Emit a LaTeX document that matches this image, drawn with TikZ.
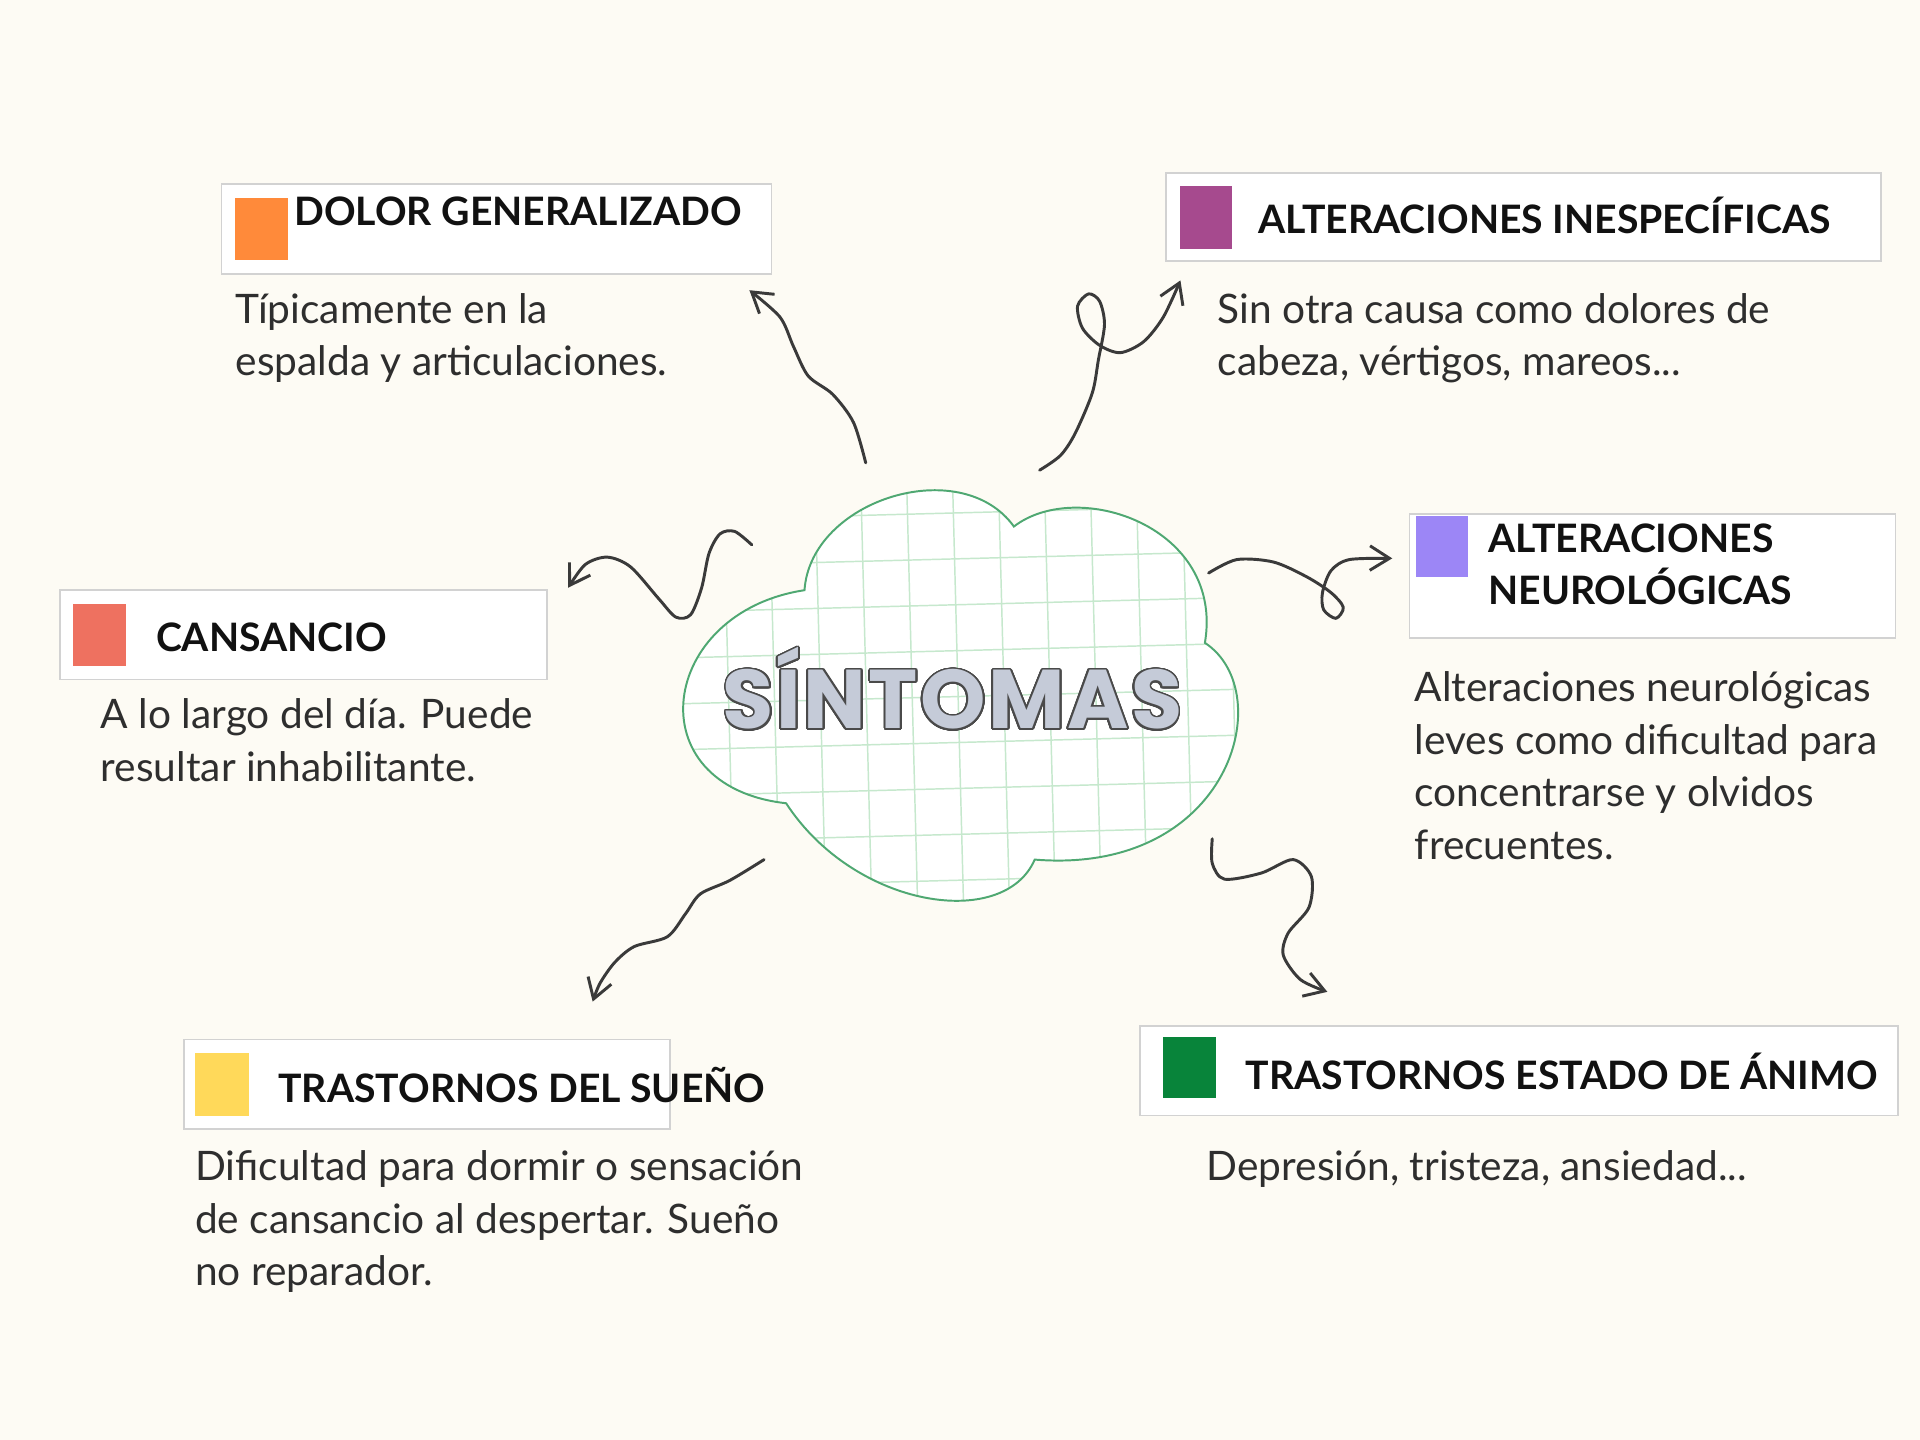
\documentclass[tikz,border=0pt]{standalone}
\usepackage{fontspec}
\setmainfont{Lato}
\newfontfamily\titlefont{Poppins}
\usepackage[copies]{contour}
\contourlength{0.7pt}
\contournumber{32}
\usetikzlibrary{arrows.meta}
\definecolor{bgc}{HTML}{FDFBF4}
\definecolor{boxline}{HTML}{D2D2D2}
\definecolor{headc}{HTML}{111111}
\definecolor{bodyc}{HTML}{2E2E2E}
\definecolor{arrowc}{HTML}{3A3A3A}
\definecolor{cloudc}{HTML}{4FA872}
\definecolor{gridc}{HTML}{C6E8CD}
\definecolor{titlefill}{HTML}{C5CBD8}
\definecolor{titleline}{HTML}{4A4A4A}
\definecolor{sqorange}{HTML}{FF8A3A}
\definecolor{sqpurple}{HTML}{A64A8E}
\definecolor{sqcoral}{HTML}{EE7160}
\definecolor{sqlav}{HTML}{9C86F6}
\definecolor{sqyellow}{HTML}{FFD95A}
\definecolor{sqgreen}{HTML}{08843A}
\tikzset{
  panel/.style={draw=boxline, fill=white, line width=0.7pt},
  headtext/.style={anchor=base west, inner sep=0pt, text=headc,
    font=\bfseries\fontsize{16}{21.5}\selectfont},
  bodytext/.style={anchor=base west, inner sep=0pt, align=left, text=bodyc,
    font=\fontsize{16.6}{21.5}\selectfont},
  squiggle/.style={draw=arrowc, line width=1.2pt, line cap=round, line join=round,
    -{Straight Barb[length=8pt,width=10pt]}},
  gridline/.style={draw=gridc, line width=0.6pt},
}
\def\cloudpath{(657,482) .. controls (662,408) and (785,370) .. (828,430)
  .. controls (880,390) and (1000,430) .. (984,525)
  .. controls (1045,565) and (1005,715) .. (845,702)
  .. controls (820,760) and (698,742) .. (642,656)
  .. controls (518,642) and (538,500) .. (657,482) -- cycle}
\begin{document}
\begin{tikzpicture}[x=0.5pt,y=-0.5pt]
\useasboundingbox (0,0) rectangle (1568,1176);
\fill[bgc] (0,0) rectangle (1568,1176);

% cloud
\fill[white] \cloudpath;
\begin{scope}
  \clip \cloudpath;
  \foreach \i in {-7,...,8} {
    \pgfmathsetmacro\gx{745+37.5*\i}
    \draw[gridline] (\gx-5.2,370) -- (\gx+5.2,770);
  }
  \foreach \j in {-6,...,6} {
    \pgfmathsetmacro\gy{569+37.5*\j}
    \draw[gridline] (527,\gy+6.5) -- (1027,\gy-6.5);
  }
\end{scope}
\draw[cloudc, line width=0.8pt] \cloudpath;

\node (title) at (778,563) {\titlefont\bfseries\fontsize{34}{34}\selectfont\addfontfeatures{LetterSpace=3}\color{titlefill}\contour{titleline}{SÍNTOMAS}};

% panels
\draw[panel] (181,150) rectangle (630,224);
\fill[sqorange] (192,162) rectangle (235,212);
\node[headtext] (h1) at (240,184) {DOLOR GENERALIZADO};
\node[bodytext] (t1) at (192,307) {Típicamente en la\\espalda y articulaciones.};

\draw[panel] (952,141) rectangle (1536,213);
\fill[sqpurple] (964,152) rectangle (1006,203);
\node[headtext] (h2) at (1027,191) {ALTERACIONES INESPECÍFICAS};
\node[bodytext] (t2) at (994,307) {Sin otra causa como dolores de\\cabeza, vértigos, mareos...};

\draw[panel] (49,482) rectangle (447,555);
\fill[sqcoral] (60,493) rectangle (103,544);
\node[headtext] (h3) at (127,532) {CANSANCIO};
\node[bodytext] (t3) at (82,638) {A lo largo del día. Puede\\resultar inhabilitante.};

\draw[panel] (1151,420) rectangle (1548,521);
\fill[sqlav] (1156,421) rectangle (1199,471);
\node[headtext, align=left] (h4) at (1215,494) {ALTERACIONES\\NEUROLÓGICAS};
\node[bodytext] (t4) at (1155,702) {Alteraciones neurológicas\\leves como dificultad para\\concentrarse y olvidos\\frecuentes.};

\draw[panel] (150,849) rectangle (547,922);
\fill[sqyellow] (159,860) rectangle (203,911);
\node[headtext] (h5) at (227,900) {TRASTORNOS DEL SUEÑO};
\node[bodytext] (t5) at (159,1050) {Dificultad para dormir o sensación\\de cansancio al despertar. Sueño\\no reparador.};

\draw[panel] (931,838) rectangle (1550,911);
\fill[sqgreen] (950,847) rectangle (993,897);
\node[headtext] (h6) at (1017,890) {TRASTORNOS ESTADO DE ÁNIMO};
\node[bodytext] (t6) at (985,964) {Depresión, tristeza, ansiedad...};

% connectors
\coordinate (a1s) at (707,378); \coordinate (a1e) at (612,237);
\coordinate (a2s) at (849,384); \coordinate (a2e) at (964,229);
\coordinate (a3s) at (614,445); \coordinate (a3e) at (464,480);
\coordinate (a4s) at (987,468); \coordinate (a4e) at (1137,456);
\coordinate (a5s) at (624,702); \coordinate (a5e) at (484,818);
\coordinate (a6s) at (990,685); \coordinate (a6e) at (1084,810);

\draw[squiggle] plot[smooth] coordinates {(a1s) (697,345) (680,322) (660,307) (648,283) (637,259) (a1e)};
\draw[squiggle] plot[smooth] coordinates {(a2s) (866,372) (878,354) (892,321) (897,294) (902,265) (898,246) (889,240) (880,250) (884,268) (898,282) (915,288) (934,279) (950,259) (a2e)};
\draw[squiggle] plot[smooth] coordinates {(a3s) (600,434) (588,436) (579,452) (573,480) (564,502) (552,504) (538,489) (515,463) (496,455) (478,461) (a3e)};
\draw[squiggle] plot[smooth] coordinates {(a4s) (1010,457) (1040,459) (1067,471) (1087,484) (1097,496) (1091,505) (1081,498) (1080,484) (1087,466) (1102,457) (a4e)};
\draw[squiggle] plot[smooth] coordinates {(a5s) (596,719) (572,730) (560,746) (545,765) (518,773) (502,786) (490,803) (a5e)};
\draw[squiggle] plot[smooth] coordinates {(a6s) (990,705) (1000,718) (1030,713) (1056,702) (1071,716) (1069,741) (1052,762) (1048,780) (1062,800) (a6e)};
\end{tikzpicture}
\end{document}
